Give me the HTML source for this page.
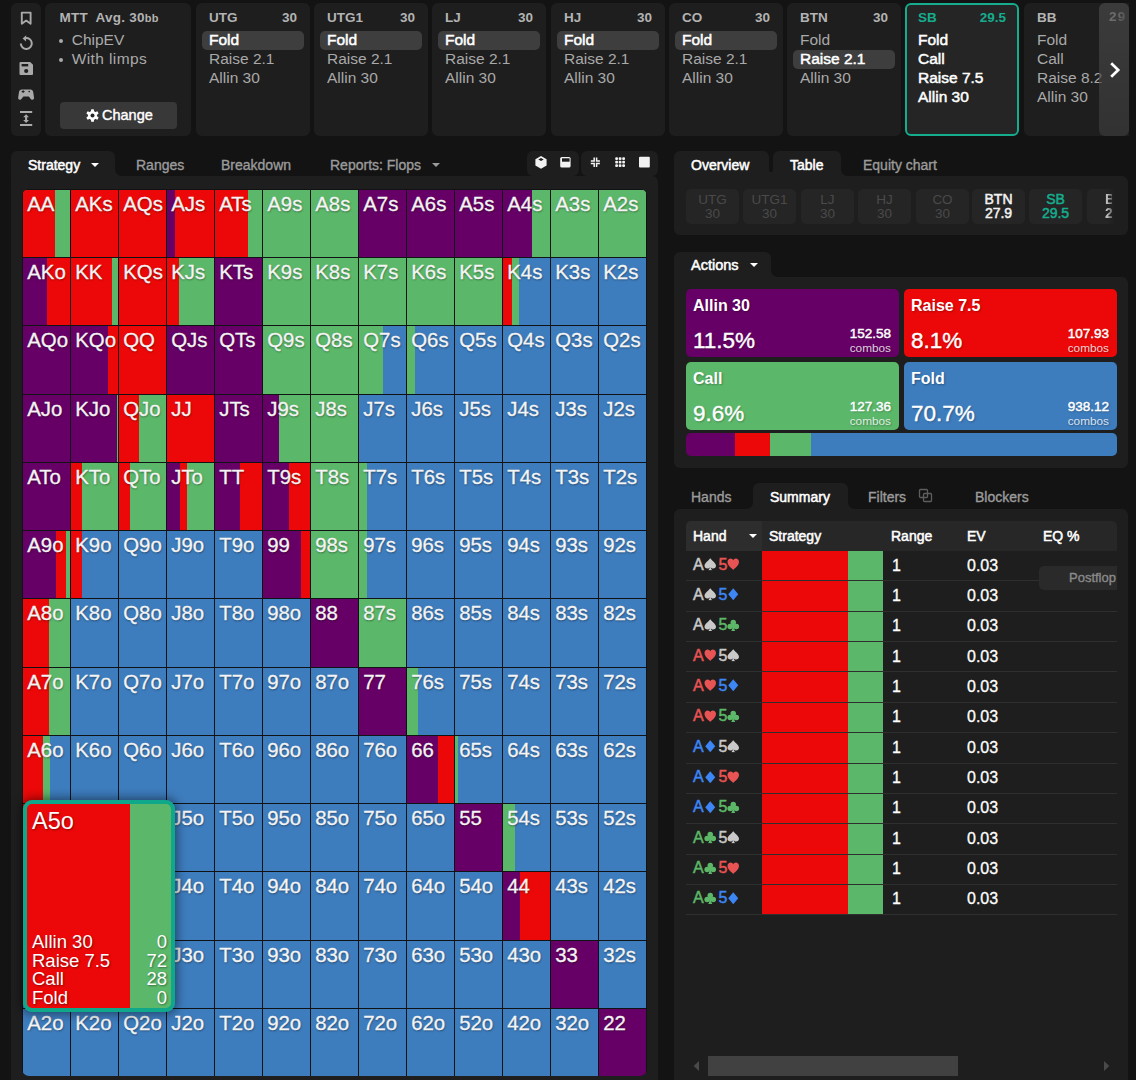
<!DOCTYPE html>
<html><head><meta charset="utf-8">
<style>
*{box-sizing:border-box;margin:0;padding:0}
html,body{width:1136px;height:1080px;overflow:hidden;background:#131313;font-family:"Liberation Sans",sans-serif;color:#fff}
.abs{position:absolute}
.pnl{position:absolute;background:#1e1e1e;border-radius:6px}
/* sidebar */
#side{left:11px;top:3px;width:30px;height:133px}
#side svg{position:absolute;left:7px}
/* mtt */
#mtt{left:45px;top:3px;width:146px;height:133px}
#mtt .t{position:absolute;left:14.5px;top:7px;font-size:13.5px;font-weight:bold;color:#b3b3b3;white-space:nowrap;letter-spacing:.25px}
#mtt .t small{font-size:11px}
#mtt ul{position:absolute;left:13px;top:27px;list-style:none;font-size:15.5px;color:#aaaaaa;line-height:19px}
#mtt li:before{content:"";display:inline-block;width:4.2px;height:4px;border-radius:50%;background:#aaa;margin:0 8.5px 0 1px;vertical-align:middle;position:relative;top:0.5px}
#chg{position:absolute;left:15px;top:99px;width:117px;height:27px;background:#383838;border-radius:4px;font-size:14.5px;color:#fff;text-align:center;line-height:27px;-webkit-text-stroke:0.4px #fff}
/* cards */
#cards{position:absolute;left:196px;top:3px;width:933px;height:133px;overflow:hidden}
.card{position:absolute;top:0;width:114px;height:133px;background:#1e1e1e;border-radius:6px}
.card .h{position:absolute;left:13px;right:13px;top:6.5px;font-size:13.5px;font-weight:bold;color:#b3b3b3}
.card .h b{float:right}
.card .a{position:absolute;left:6px;right:6px;top:28px;font-size:15.5px;line-height:19px;color:#a9a9a9}
.card .a div{padding-left:7px;height:19px;white-space:nowrap;position:relative;top:-1px}
.card .a .sel{background:#3e3e3e;border-radius:5px;color:#fff;font-size:15.5px;top:0;line-height:18px;-webkit-text-stroke:0.5px currentColor;font-weight:normal}
.card.sb{background:#252525;border:2px solid #15ad8e}
.card.sb .h{color:#15ad8e;left:11px;right:11px;top:4.5px}
.card.sb .a{left:4px;top:26px;color:#fff;font-size:15.5px;-webkit-text-stroke:0.5px currentColor;font-weight:normal}
#arrow{position:absolute;left:903px;top:0;width:30px;height:133px;border-radius:6px;background:linear-gradient(180deg,rgba(74,74,74,.66),rgba(60,60,60,.66))}
/* left panel */
#ltab{left:11px;top:151px;width:104px;height:30px;border-radius:6px 6px 0 0}
#lbody{left:11px;top:176px;width:647px;height:920px}
.tabt{position:absolute;font-size:14px;white-space:nowrap}
.tabt.bd{font-size:14px;color:#fff;-webkit-text-stroke:0.5px currentColor;font-weight:normal}
.grey{color:#9b9b9b;-webkit-text-stroke:0.35px #9b9b9b}
.caret{display:inline-block;width:0;height:0;border-left:4.5px solid transparent;border-right:4.5px solid transparent;border-top:4.5px solid currentColor;vertical-align:middle;margin-left:11px;position:relative;top:-1px}
#grid{position:absolute;left:22px;top:189px;width:625px;height:887px;background:#101214;border-radius:7px;overflow:hidden}
.c{position:absolute;width:47px;overflow:hidden}
.c span{position:absolute;left:4.2px;top:2.8px;font-size:20.4px;color:#f4f4f4;text-shadow:0.5px 1px 2px rgba(0,0,0,.45);white-space:nowrap;-webkit-text-stroke:0.3px #f4f4f4}
#pop{position:absolute;left:23px;top:800px;width:152px;height:212px;border:4px solid #0fa88a;border-radius:9px;background:linear-gradient(90deg,#ec0808 0 71.3%,#5bb86a 71.3% 100%);box-shadow:0 0 10px 2px rgba(0,0,0,.45);overflow:hidden}
#pop .n{position:absolute;left:5px;top:4px;font-size:23.5px;text-shadow:1px 1px 2px rgba(0,0,0,.4)}
#pop .l{position:absolute;left:5px;right:4px;top:129px;font-size:18.5px;line-height:18.6px;text-shadow:1px 1px 2px rgba(0,0,0,.4)}
#pop .l div span{float:right}
.fl{position:absolute;width:6px;height:6px;background:radial-gradient(circle at 0 0,#131313 5.4px,#1e1e1e 6.2px)}
.fr{position:absolute;width:6px;height:6px;background:radial-gradient(circle at 100% 0,#131313 5.4px,#1e1e1e 6.2px)}
/* right panel */
.pt{position:absolute;top:189px;width:53px;height:35px;background:#252525;border-radius:5px;text-align:center;font-size:13.5px;line-height:13.5px;padding-top:4px;color:#4a4a4a}
.pt.on{font-size:14px;-webkit-text-stroke:0.5px currentColor;font-weight:normal}
.ab{position:absolute;width:213px;height:68px;border-radius:5px;color:#fff;text-shadow:1px 1px 2px rgba(0,0,0,.3)}
.ab .n{position:absolute;left:7px;top:8px;font-size:16px;font-weight:bold}
.ab .p{position:absolute;left:7px;top:38.5px;font-size:22.5px;-webkit-text-stroke:0.4px #fff}
.ab .cb{position:absolute;right:8px;top:37.5px;text-align:right;font-size:13.5px;line-height:14.5px;-webkit-text-stroke:0.45px #fff}
.ab .cb i{font-style:normal;font-weight:normal;font-size:11.8px;color:rgba(255,255,255,.82);-webkit-text-stroke:0}
#thead{position:absolute;left:686px;top:521px;width:431px;height:30px;background:#272727;border-radius:5px 5px 0 0}
.th{position:absolute;top:528px;font-size:14px;white-space:nowrap;-webkit-text-stroke:0.5px currentColor;font-weight:normal}
.tr{position:absolute;left:686px;width:431px;height:30.36px;border-bottom:1px solid #2f2f2f}
.tr .hd{position:absolute;left:7px;top:4.5px;font-size:16px;letter-spacing:-0.3px;-webkit-text-stroke:0.5px currentColor}
.tr .st{position:absolute;left:76px;top:0;width:121px;height:100%;background:linear-gradient(90deg,#ec0808 0 71%,#5bb86a 71% 100%)}
.tr .rg{position:absolute;left:206px;top:5.5px;font-size:16px;-webkit-text-stroke:0.3px #fff}
.tr .ev{position:absolute;left:281px;top:5.5px;font-size:16px;-webkit-text-stroke:0.3px #fff}
.su{display:inline-block;width:12.5px;height:12.5px;fill:currentColor;vertical-align:-1px;margin:0 2px 0 0.5px}
.sp{color:#c9c9c9}.ht{color:#e85454}.di{color:#3d86f5}.cl{color:#5cb868}
</style></head><body>

<svg width="0" height="0" style="position:absolute"><defs>
<symbol id="S" viewBox="0 0 100 100"><path d="M50 2 C38 20 4 40 4 62 C4 76 15 84 27 84 C36 84 42 80 46 74 C45 84 40 92 33 98 H67 C60 92 55 84 54 74 C58 80 64 84 73 84 C85 84 96 76 96 62 C96 40 62 20 50 2 Z"/></symbol>
<symbol id="H" viewBox="0 0 100 100"><path d="M50 96 C40 84 4 60 4 32 C4 14 16 4 29 4 C39 4 46 10 50 18 C54 10 61 4 71 4 C84 4 96 14 96 32 C96 60 60 84 50 96 Z"/></symbol>
<symbol id="D" viewBox="0 0 100 100"><path d="M50 2 L90 50 L50 98 L10 50 Z"/></symbol>
<symbol id="C" viewBox="0 0 100 100"><circle cx="50" cy="27" r="22"/><circle cx="25" cy="60" r="22"/><circle cx="75" cy="60" r="22"/><path d="M44 50 H56 C56 76 60 88 68 98 H32 C40 88 44 76 44 50 Z"/><rect x="40" y="40" width="20" height="25"/></symbol>
</defs></svg>
<div class="pnl" id="side"></div>
<svg class="abs" style="left:11px;top:3px" width="30" height="132" viewBox="11 3 30 132">
 <g fill="none" stroke="#a9a9a9" stroke-width="1.9" stroke-linejoin="round">
  <path d="M21.8 12.6 H30.6 V23.8 L26.2 20.6 L21.8 23.8 Z"/>
  <path d="M25.3 38.1 A5.5 5.5 0 1 1 20.8 43.6" stroke-width="2"/>
 </g>
 <path d="M26.2 35.2 L22.6 38.5 L26 41.6 Z" fill="#a9a9a9"/>
 <path d="M20.5 62 H30.2 L33 64.8 V74 Q33 75 32 75 H20.5 Q19.5 75 19.5 74 V63 Q19.5 62 20.5 62 Z" fill="#a9a9a9"/>
 <rect x="21.6" y="64" width="6.6" height="2.4" fill="#1e1e1e"/>
 <circle cx="26.2" cy="71" r="2.1" fill="#1e1e1e"/>
 <path d="M21.8 89.4 H30.4 C32 89.4 32.9 90.4 33.2 92 L34 97.6 C34.3 99.8 32 100.6 30.8 99 L28.8 96.6 H23.4 L21.4 99 C20.2 100.6 17.9 99.8 18.2 97.6 L19 92 C19.3 90.4 20.2 89.4 21.8 89.4 Z" fill="#a9a9a9"/>
 <path d="M21.6 91.6 h3 M23.1 90.2 v2.8" stroke="#1e1e1e" stroke-width="1"/>
 <circle cx="29.2" cy="91.6" r=".8" fill="#1e1e1e"/>
 <rect x="20" y="111" width="12.2" height="2" fill="#a9a9a9"/>
 <rect x="20" y="124" width="12.2" height="2" fill="#a9a9a9"/>
 <path d="M26.1 114.2 L29 117.2 H27.1 V120 H29 L26.1 123 L23.2 120 H25.1 V117.2 H23.2 Z" fill="#a9a9a9"/>
</svg>
<div class="pnl" id="mtt">
  <div class="t">MTT&nbsp; Avg. 30<small>bb</small></div>
  <ul><li>ChipEV</li><li style="letter-spacing:.4px">With limps</li></ul>
  <div id="chg"><svg style="position:absolute;left:26px;top:7px" width="13" height="13" viewBox="-6.5 -6.5 13 13"><g fill="#fff"><circle r="4.5"/><rect x="-1.45" y="-6.3" width="2.9" height="3.2" rx=".6" transform="rotate(0)"/><rect x="-1.45" y="-6.3" width="2.9" height="3.2" rx=".6" transform="rotate(60)"/><rect x="-1.45" y="-6.3" width="2.9" height="3.2" rx=".6" transform="rotate(120)"/><rect x="-1.45" y="-6.3" width="2.9" height="3.2" rx=".6" transform="rotate(180)"/><rect x="-1.45" y="-6.3" width="2.9" height="3.2" rx=".6" transform="rotate(240)"/><rect x="-1.45" y="-6.3" width="2.9" height="3.2" rx=".6" transform="rotate(300)"/></g><circle r="2" fill="#262626"/></svg><span style="position:absolute;left:42px;top:0">Change</span></div>
</div>

<div id="cards">
  <div class="card" style="left:0"><div class="h">UTG<b>30</b></div><div class="a"><div class="sel">Fold</div><div>Raise 2.1</div><div>Allin 30</div></div></div>
  <div class="card" style="left:118px"><div class="h">UTG1<b>30</b></div><div class="a"><div class="sel">Fold</div><div>Raise 2.1</div><div>Allin 30</div></div></div>
  <div class="card" style="left:236px"><div class="h">LJ<b>30</b></div><div class="a"><div class="sel">Fold</div><div>Raise 2.1</div><div>Allin 30</div></div></div>
  <div class="card" style="left:355px"><div class="h">HJ<b>30</b></div><div class="a"><div class="sel">Fold</div><div>Raise 2.1</div><div>Allin 30</div></div></div>
  <div class="card" style="left:473px"><div class="h">CO<b>30</b></div><div class="a"><div class="sel">Fold</div><div>Raise 2.1</div><div>Allin 30</div></div></div>
  <div class="card" style="left:591px"><div class="h">BTN<b>30</b></div><div class="a"><div>Fold</div><div class="sel">Raise 2.1</div><div>Allin 30</div></div></div>
  <div class="card sb" style="left:709px"><div class="h">SB<b>29.5</b></div><div class="a"><div>Fold</div><div>Call</div><div>Raise 7.5</div><div>Allin 30</div></div></div>
  <div class="card" style="left:828px"><div class="h">BB<b style="position:absolute;left:72px;top:-1px;letter-spacing:1.2px;-webkit-mask-image:linear-gradient(90deg,#000 45%,rgba(0,0,0,.45) 100%)">29</b></div><div class="a"><div>Fold</div><div>Call</div><div>Raise 8.2</div><div>Allin 30</div></div></div>
  <div id="arrow"><svg style="position:absolute;left:9px;top:58px" width="14" height="18" viewBox="0 0 14 18"><path d="M3.2 2.2 L10.2 9 L3.2 15.8" fill="none" stroke="#fff" stroke-width="2.7"/></svg></div>
</div>

<div class="pnl" id="ltab"></div>
<div class="pnl" id="lbody"></div>
<div class="tabt bd" style="left:28px;top:156.5px">Strategy<span class="caret"></span></div>
<div class="tabt grey" style="left:136px;top:156.5px">Ranges</div>
<div class="tabt grey" style="left:221px;top:156.5px">Breakdown</div>
<div class="tabt grey" style="left:330px;top:156.5px">Reports: Flops<span class="caret"></span></div>

<div class="pnl" style="left:527px;top:151px;width:52px;height:25px"></div>
<div class="pnl" style="left:581px;top:151px;width:77px;height:25px"></div>
<svg class="abs" style="left:527px;top:151px" width="131" height="25" viewBox="527 151 131 25">
 <path d="M541 156 L546.6 159.2 V165.6 L541 168.8 L535.4 165.6 V159.2 Z" fill="#f2f2f2"/>
 <path d="M535.6 159.3 L541 162.4 L546.4 159.3 L541 156.3 Z" fill="#1e1e1e" opacity=".0"/>
 <path d="M538.3 159.5 L541 158 L543.7 159.5 L541 161 Z" fill="#1e1e1e"/>
 <path d="M541 161.4 V168.6" fill="none" stroke="#1e1e1e" stroke-width="0" />
 <rect x="560.2" y="157" width="10.4" height="10.6" rx="1.6" fill="#f2f2f2"/>
 <rect x="562" y="158.3" width="7.6" height="3.4" fill="#1e1e1e"/>
 <path d="M590.8 160.9 H594.2 V157.4 M599.9 160.9 H596.6 V157.4 M590.8 163.6 H594.2 V167.1 M599.9 163.6 H596.6 V167.1" fill="none" stroke="#f2f2f2" stroke-width="1.5"/>
 <g fill="#f2f2f2">
  <rect x="615.2" y="157.3" width="2.8" height="2.8" rx="1"/><rect x="618.7" y="157.3" width="2.8" height="2.8" rx="1"/><rect x="622.2" y="157.3" width="2.8" height="2.8" rx="1"/><rect x="615.2" y="160.8" width="2.8" height="2.8" rx="1"/><rect x="618.7" y="160.8" width="2.8" height="2.8" rx="1"/><rect x="622.2" y="160.8" width="2.8" height="2.8" rx="1"/><rect x="615.2" y="164.3" width="2.8" height="2.8" rx="1"/><rect x="618.7" y="164.3" width="2.8" height="2.8" rx="1"/><rect x="622.2" y="164.3" width="2.8" height="2.8" rx="1"/></g>
 <rect x="639" y="156.8" width="10.8" height="10.8" rx="1" fill="#f2f2f2"/>
</svg>
<div class="fr" style="left:115px;top:170px"></div>
<div class="fr" style="left:769px;top:170px;width:2px;background:radial-gradient(circle at 100% 0,#131313 1.6px,#1e1e1e 2.4px)"></div>
<div class="fl" style="left:771px;top:170px;width:2px;background:radial-gradient(circle at 0 0,#131313 1.6px,#1e1e1e 2.4px)"></div>
<div class="fr" style="left:841px;top:170px"></div>
<div class="fr" style="left:771px;top:271px"></div>
<div class="fl" style="left:747px;top:503px"></div>
<div class="fr" style="left:848px;top:503px"></div>
<div class="fr" style="left:1127px;top:1074px;display:none"></div>
<div id="grid">
<div class="c" style="left:1px;top:1px;height:67px;background:linear-gradient(90deg,#ec0808 0.00% 69.00%,#5bb86a 69.00% 100.00%)"><span>AA</span></div>
<div class="c" style="left:49px;top:1px;height:67px;background:#ec0808"><span>AKs</span></div>
<div class="c" style="left:97px;top:1px;height:67px;background:#ec0808"><span>AQs</span></div>
<div class="c" style="left:145px;top:1px;height:67px;background:linear-gradient(90deg,#660066 0.00% 17.00%,#ec0808 17.00% 100.00%)"><span>AJs</span></div>
<div class="c" style="left:193px;top:1px;height:67px;background:linear-gradient(90deg,#ec0808 0.00% 71.00%,#5bb86a 71.00% 100.00%)"><span>ATs</span></div>
<div class="c" style="left:241px;top:1px;height:67px;background:#5bb86a"><span>A9s</span></div>
<div class="c" style="left:289px;top:1px;height:67px;background:#5bb86a"><span>A8s</span></div>
<div class="c" style="left:337px;top:1px;height:67px;background:#660066"><span>A7s</span></div>
<div class="c" style="left:385px;top:1px;height:67px;background:#660066"><span>A6s</span></div>
<div class="c" style="left:433px;top:1px;height:67px;background:#660066"><span>A5s</span></div>
<div class="c" style="left:481px;top:1px;height:67px;background:linear-gradient(90deg,#660066 0.00% 61.00%,#5bb86a 61.00% 100.00%)"><span>A4s</span></div>
<div class="c" style="left:529px;top:1px;height:67px;background:#5bb86a"><span>A3s</span></div>
<div class="c" style="left:577px;top:1px;height:67px;background:#5bb86a"><span>A2s</span></div>
<div class="c" style="left:1px;top:69px;height:67px;background:linear-gradient(90deg,#660066 0.00% 50.00%,#ec0808 50.00% 100.00%)"><span>AKo</span></div>
<div class="c" style="left:49px;top:69px;height:67px;background:linear-gradient(90deg,#ec0808 0.00% 87.50%,#5bb86a 87.50% 100.00%)"><span>KK</span></div>
<div class="c" style="left:97px;top:69px;height:67px;background:#ec0808"><span>KQs</span></div>
<div class="c" style="left:145px;top:69px;height:67px;background:linear-gradient(90deg,#ec0808 0.00% 26.00%,#5bb86a 26.00% 100.00%)"><span>KJs</span></div>
<div class="c" style="left:193px;top:69px;height:67px;background:#660066"><span>KTs</span></div>
<div class="c" style="left:241px;top:69px;height:67px;background:#5bb86a"><span>K9s</span></div>
<div class="c" style="left:289px;top:69px;height:67px;background:#5bb86a"><span>K8s</span></div>
<div class="c" style="left:337px;top:69px;height:67px;background:#5bb86a"><span>K7s</span></div>
<div class="c" style="left:385px;top:69px;height:67px;background:#5bb86a"><span>K6s</span></div>
<div class="c" style="left:433px;top:69px;height:67px;background:#5bb86a"><span>K5s</span></div>
<div class="c" style="left:481px;top:69px;height:67px;background:linear-gradient(90deg,#ec0808 0.00% 19.00%,#5bb86a 19.00% 35.00%,#3d7cbd 35.00% 100.00%)"><span>K4s</span></div>
<div class="c" style="left:529px;top:69px;height:67px;background:#3d7cbd"><span>K3s</span></div>
<div class="c" style="left:577px;top:69px;height:67px;background:#3d7cbd"><span>K2s</span></div>
<div class="c" style="left:1px;top:137px;height:68px;background:#660066"><span>AQo</span></div>
<div class="c" style="left:49px;top:137px;height:68px;background:linear-gradient(90deg,#660066 0.00% 79.00%,#ec0808 79.00% 100.00%)"><span>KQo</span></div>
<div class="c" style="left:97px;top:137px;height:68px;background:#ec0808"><span>QQ</span></div>
<div class="c" style="left:145px;top:137px;height:68px;background:#660066"><span>QJs</span></div>
<div class="c" style="left:193px;top:137px;height:68px;background:#660066"><span>QTs</span></div>
<div class="c" style="left:241px;top:137px;height:68px;background:#5bb86a"><span>Q9s</span></div>
<div class="c" style="left:289px;top:137px;height:68px;background:#5bb86a"><span>Q8s</span></div>
<div class="c" style="left:337px;top:137px;height:68px;background:linear-gradient(90deg,#5bb86a 0.00% 51.00%,#3d7cbd 51.00% 100.00%)"><span>Q7s</span></div>
<div class="c" style="left:385px;top:137px;height:68px;background:linear-gradient(90deg,#5bb86a 0.00% 16.00%,#3d7cbd 16.00% 100.00%)"><span>Q6s</span></div>
<div class="c" style="left:433px;top:137px;height:68px;background:#3d7cbd"><span>Q5s</span></div>
<div class="c" style="left:481px;top:137px;height:68px;background:#3d7cbd"><span>Q4s</span></div>
<div class="c" style="left:529px;top:137px;height:68px;background:#3d7cbd"><span>Q3s</span></div>
<div class="c" style="left:577px;top:137px;height:68px;background:#3d7cbd"><span>Q2s</span></div>
<div class="c" style="left:1px;top:206px;height:67px;background:#660066"><span>AJo</span></div>
<div class="c" style="left:49px;top:206px;height:67px;background:linear-gradient(90deg,#660066 0.00% 97.00%,#5bb86a 97.00% 100.00%)"><span>KJo</span></div>
<div class="c" style="left:97px;top:206px;height:67px;background:linear-gradient(90deg,#ec0808 0.00% 43.00%,#5bb86a 43.00% 100.00%)"><span>QJo</span></div>
<div class="c" style="left:145px;top:206px;height:67px;background:#ec0808"><span>JJ</span></div>
<div class="c" style="left:193px;top:206px;height:67px;background:#660066"><span>JTs</span></div>
<div class="c" style="left:241px;top:206px;height:67px;background:linear-gradient(90deg,#660066 0.00% 33.00%,#5bb86a 33.00% 100.00%)"><span>J9s</span></div>
<div class="c" style="left:289px;top:206px;height:67px;background:#5bb86a"><span>J8s</span></div>
<div class="c" style="left:337px;top:206px;height:67px;background:#3d7cbd"><span>J7s</span></div>
<div class="c" style="left:385px;top:206px;height:67px;background:#3d7cbd"><span>J6s</span></div>
<div class="c" style="left:433px;top:206px;height:67px;background:#3d7cbd"><span>J5s</span></div>
<div class="c" style="left:481px;top:206px;height:67px;background:#3d7cbd"><span>J4s</span></div>
<div class="c" style="left:529px;top:206px;height:67px;background:#3d7cbd"><span>J3s</span></div>
<div class="c" style="left:577px;top:206px;height:67px;background:#3d7cbd"><span>J2s</span></div>
<div class="c" style="left:1px;top:274px;height:67px;background:#660066"><span>ATo</span></div>
<div class="c" style="left:49px;top:274px;height:67px;background:linear-gradient(90deg,#ec0808 0.00% 24.00%,#5bb86a 24.00% 100.00%)"><span>KTo</span></div>
<div class="c" style="left:97px;top:274px;height:67px;background:linear-gradient(90deg,#ec0808 0.00% 24.00%,#5bb86a 24.00% 100.00%)"><span>QTo</span></div>
<div class="c" style="left:145px;top:274px;height:67px;background:linear-gradient(90deg,#660066 0.00% 27.00%,#ec0808 27.00% 43.00%,#5bb86a 43.00% 100.00%)"><span>JTo</span></div>
<div class="c" style="left:193px;top:274px;height:67px;background:linear-gradient(90deg,#660066 0.00% 53.00%,#ec0808 53.00% 100.00%)"><span>TT</span></div>
<div class="c" style="left:241px;top:274px;height:67px;background:linear-gradient(90deg,#660066 0.00% 55.00%,#ec0808 55.00% 100.00%)"><span>T9s</span></div>
<div class="c" style="left:289px;top:274px;height:67px;background:#5bb86a"><span>T8s</span></div>
<div class="c" style="left:337px;top:274px;height:67px;background:linear-gradient(90deg,#5bb86a 0.00% 17.00%,#3d7cbd 17.00% 100.00%)"><span>T7s</span></div>
<div class="c" style="left:385px;top:274px;height:67px;background:#3d7cbd"><span>T6s</span></div>
<div class="c" style="left:433px;top:274px;height:67px;background:#3d7cbd"><span>T5s</span></div>
<div class="c" style="left:481px;top:274px;height:67px;background:#3d7cbd"><span>T4s</span></div>
<div class="c" style="left:529px;top:274px;height:67px;background:#3d7cbd"><span>T3s</span></div>
<div class="c" style="left:577px;top:274px;height:67px;background:#3d7cbd"><span>T2s</span></div>
<div class="c" style="left:1px;top:342px;height:67px;background:linear-gradient(90deg,#660066 0.00% 70.00%,#ec0808 70.00% 92.00%,#5bb86a 92.00% 100.00%)"><span>A9o</span></div>
<div class="c" style="left:49px;top:342px;height:67px;background:linear-gradient(90deg,#ec0808 0.00% 23.00%,#3d7cbd 23.00% 100.00%)"><span>K9o</span></div>
<div class="c" style="left:97px;top:342px;height:67px;background:#3d7cbd"><span>Q9o</span></div>
<div class="c" style="left:145px;top:342px;height:67px;background:#3d7cbd"><span>J9o</span></div>
<div class="c" style="left:193px;top:342px;height:67px;background:#3d7cbd"><span>T9o</span></div>
<div class="c" style="left:241px;top:342px;height:67px;background:linear-gradient(90deg,#660066 0.00% 80.00%,#ec0808 80.00% 100.00%)"><span>99</span></div>
<div class="c" style="left:289px;top:342px;height:67px;background:#5bb86a"><span>98s</span></div>
<div class="c" style="left:337px;top:342px;height:67px;background:linear-gradient(90deg,#5bb86a 0.00% 17.00%,#3d7cbd 17.00% 100.00%)"><span>97s</span></div>
<div class="c" style="left:385px;top:342px;height:67px;background:#3d7cbd"><span>96s</span></div>
<div class="c" style="left:433px;top:342px;height:67px;background:#3d7cbd"><span>95s</span></div>
<div class="c" style="left:481px;top:342px;height:67px;background:#3d7cbd"><span>94s</span></div>
<div class="c" style="left:529px;top:342px;height:67px;background:#3d7cbd"><span>93s</span></div>
<div class="c" style="left:577px;top:342px;height:67px;background:#3d7cbd"><span>92s</span></div>
<div class="c" style="left:1px;top:410px;height:68px;background:linear-gradient(90deg,#ec0808 0.00% 56.00%,#5bb86a 56.00% 100.00%)"><span>A8o</span></div>
<div class="c" style="left:49px;top:410px;height:68px;background:#3d7cbd"><span>K8o</span></div>
<div class="c" style="left:97px;top:410px;height:68px;background:#3d7cbd"><span>Q8o</span></div>
<div class="c" style="left:145px;top:410px;height:68px;background:#3d7cbd"><span>J8o</span></div>
<div class="c" style="left:193px;top:410px;height:68px;background:#3d7cbd"><span>T8o</span></div>
<div class="c" style="left:241px;top:410px;height:68px;background:#3d7cbd"><span>98o</span></div>
<div class="c" style="left:289px;top:410px;height:68px;background:#660066"><span>88</span></div>
<div class="c" style="left:337px;top:410px;height:68px;background:#5bb86a"><span>87s</span></div>
<div class="c" style="left:385px;top:410px;height:68px;background:#3d7cbd"><span>86s</span></div>
<div class="c" style="left:433px;top:410px;height:68px;background:#3d7cbd"><span>85s</span></div>
<div class="c" style="left:481px;top:410px;height:68px;background:#3d7cbd"><span>84s</span></div>
<div class="c" style="left:529px;top:410px;height:68px;background:#3d7cbd"><span>83s</span></div>
<div class="c" style="left:577px;top:410px;height:68px;background:#3d7cbd"><span>82s</span></div>
<div class="c" style="left:1px;top:479px;height:67px;background:linear-gradient(90deg,#ec0808 0.00% 56.00%,#5bb86a 56.00% 100.00%)"><span>A7o</span></div>
<div class="c" style="left:49px;top:479px;height:67px;background:#3d7cbd"><span>K7o</span></div>
<div class="c" style="left:97px;top:479px;height:67px;background:#3d7cbd"><span>Q7o</span></div>
<div class="c" style="left:145px;top:479px;height:67px;background:#3d7cbd"><span>J7o</span></div>
<div class="c" style="left:193px;top:479px;height:67px;background:#3d7cbd"><span>T7o</span></div>
<div class="c" style="left:241px;top:479px;height:67px;background:#3d7cbd"><span>97o</span></div>
<div class="c" style="left:289px;top:479px;height:67px;background:#3d7cbd"><span>87o</span></div>
<div class="c" style="left:337px;top:479px;height:67px;background:#660066"><span>77</span></div>
<div class="c" style="left:385px;top:479px;height:67px;background:linear-gradient(90deg,#5bb86a 0.00% 24.00%,#3d7cbd 24.00% 100.00%)"><span>76s</span></div>
<div class="c" style="left:433px;top:479px;height:67px;background:#3d7cbd"><span>75s</span></div>
<div class="c" style="left:481px;top:479px;height:67px;background:#3d7cbd"><span>74s</span></div>
<div class="c" style="left:529px;top:479px;height:67px;background:#3d7cbd"><span>73s</span></div>
<div class="c" style="left:577px;top:479px;height:67px;background:#3d7cbd"><span>72s</span></div>
<div class="c" style="left:1px;top:547px;height:67px;background:linear-gradient(90deg,#ec0808 0.00% 42.00%,#5bb86a 42.00% 57.00%,#3d7cbd 57.00% 100.00%)"><span>A6o</span></div>
<div class="c" style="left:49px;top:547px;height:67px;background:#3d7cbd"><span>K6o</span></div>
<div class="c" style="left:97px;top:547px;height:67px;background:#3d7cbd"><span>Q6o</span></div>
<div class="c" style="left:145px;top:547px;height:67px;background:#3d7cbd"><span>J6o</span></div>
<div class="c" style="left:193px;top:547px;height:67px;background:#3d7cbd"><span>T6o</span></div>
<div class="c" style="left:241px;top:547px;height:67px;background:#3d7cbd"><span>96o</span></div>
<div class="c" style="left:289px;top:547px;height:67px;background:#3d7cbd"><span>86o</span></div>
<div class="c" style="left:337px;top:547px;height:67px;background:#3d7cbd"><span>76o</span></div>
<div class="c" style="left:385px;top:547px;height:67px;background:linear-gradient(90deg,#660066 0.00% 65.00%,#ec0808 65.00% 100.00%)"><span>66</span></div>
<div class="c" style="left:433px;top:547px;height:67px;background:linear-gradient(90deg,#5bb86a 0.00% 6.00%,#3d7cbd 6.00% 100.00%)"><span>65s</span></div>
<div class="c" style="left:481px;top:547px;height:67px;background:#3d7cbd"><span>64s</span></div>
<div class="c" style="left:529px;top:547px;height:67px;background:#3d7cbd"><span>63s</span></div>
<div class="c" style="left:577px;top:547px;height:67px;background:#3d7cbd"><span>62s</span></div>
<div class="c" style="left:1px;top:615px;height:67px;background:linear-gradient(90deg,#ec0808 0.00% 72.00%,#5bb86a 72.00% 100.00%)"><span>A5o</span></div>
<div class="c" style="left:49px;top:615px;height:67px;background:#3d7cbd"><span>K5o</span></div>
<div class="c" style="left:97px;top:615px;height:67px;background:#3d7cbd"><span>Q5o</span></div>
<div class="c" style="left:145px;top:615px;height:67px;background:#3d7cbd"><span>J5o</span></div>
<div class="c" style="left:193px;top:615px;height:67px;background:#3d7cbd"><span>T5o</span></div>
<div class="c" style="left:241px;top:615px;height:67px;background:#3d7cbd"><span>95o</span></div>
<div class="c" style="left:289px;top:615px;height:67px;background:#3d7cbd"><span>85o</span></div>
<div class="c" style="left:337px;top:615px;height:67px;background:#3d7cbd"><span>75o</span></div>
<div class="c" style="left:385px;top:615px;height:67px;background:#3d7cbd"><span>65o</span></div>
<div class="c" style="left:433px;top:615px;height:67px;background:#660066"><span>55</span></div>
<div class="c" style="left:481px;top:615px;height:67px;background:linear-gradient(90deg,#5bb86a 0.00% 26.00%,#3d7cbd 26.00% 100.00%)"><span>54s</span></div>
<div class="c" style="left:529px;top:615px;height:67px;background:#3d7cbd"><span>53s</span></div>
<div class="c" style="left:577px;top:615px;height:67px;background:#3d7cbd"><span>52s</span></div>
<div class="c" style="left:1px;top:683px;height:68px;background:#3d7cbd"><span>A4o</span></div>
<div class="c" style="left:49px;top:683px;height:68px;background:#3d7cbd"><span>K4o</span></div>
<div class="c" style="left:97px;top:683px;height:68px;background:#3d7cbd"><span>Q4o</span></div>
<div class="c" style="left:145px;top:683px;height:68px;background:#3d7cbd"><span>J4o</span></div>
<div class="c" style="left:193px;top:683px;height:68px;background:#3d7cbd"><span>T4o</span></div>
<div class="c" style="left:241px;top:683px;height:68px;background:#3d7cbd"><span>94o</span></div>
<div class="c" style="left:289px;top:683px;height:68px;background:#3d7cbd"><span>84o</span></div>
<div class="c" style="left:337px;top:683px;height:68px;background:#3d7cbd"><span>74o</span></div>
<div class="c" style="left:385px;top:683px;height:68px;background:#3d7cbd"><span>64o</span></div>
<div class="c" style="left:433px;top:683px;height:68px;background:#3d7cbd"><span>54o</span></div>
<div class="c" style="left:481px;top:683px;height:68px;background:linear-gradient(90deg,#660066 0.00% 36.00%,#ec0808 36.00% 100.00%)"><span>44</span></div>
<div class="c" style="left:529px;top:683px;height:68px;background:#3d7cbd"><span>43s</span></div>
<div class="c" style="left:577px;top:683px;height:68px;background:#3d7cbd"><span>42s</span></div>
<div class="c" style="left:1px;top:752px;height:67px;background:#3d7cbd"><span>A3o</span></div>
<div class="c" style="left:49px;top:752px;height:67px;background:#3d7cbd"><span>K3o</span></div>
<div class="c" style="left:97px;top:752px;height:67px;background:#3d7cbd"><span>Q3o</span></div>
<div class="c" style="left:145px;top:752px;height:67px;background:#3d7cbd"><span>J3o</span></div>
<div class="c" style="left:193px;top:752px;height:67px;background:#3d7cbd"><span>T3o</span></div>
<div class="c" style="left:241px;top:752px;height:67px;background:#3d7cbd"><span>93o</span></div>
<div class="c" style="left:289px;top:752px;height:67px;background:#3d7cbd"><span>83o</span></div>
<div class="c" style="left:337px;top:752px;height:67px;background:#3d7cbd"><span>73o</span></div>
<div class="c" style="left:385px;top:752px;height:67px;background:#3d7cbd"><span>63o</span></div>
<div class="c" style="left:433px;top:752px;height:67px;background:#3d7cbd"><span>53o</span></div>
<div class="c" style="left:481px;top:752px;height:67px;background:#3d7cbd"><span>43o</span></div>
<div class="c" style="left:529px;top:752px;height:67px;background:#660066"><span>33</span></div>
<div class="c" style="left:577px;top:752px;height:67px;background:#3d7cbd"><span>32s</span></div>
<div class="c" style="left:1px;top:820px;height:67px;background:#3d7cbd"><span>A2o</span></div>
<div class="c" style="left:49px;top:820px;height:67px;background:#3d7cbd"><span>K2o</span></div>
<div class="c" style="left:97px;top:820px;height:67px;background:#3d7cbd"><span>Q2o</span></div>
<div class="c" style="left:145px;top:820px;height:67px;background:#3d7cbd"><span>J2o</span></div>
<div class="c" style="left:193px;top:820px;height:67px;background:#3d7cbd"><span>T2o</span></div>
<div class="c" style="left:241px;top:820px;height:67px;background:#3d7cbd"><span>92o</span></div>
<div class="c" style="left:289px;top:820px;height:67px;background:#3d7cbd"><span>82o</span></div>
<div class="c" style="left:337px;top:820px;height:67px;background:#3d7cbd"><span>72o</span></div>
<div class="c" style="left:385px;top:820px;height:67px;background:#3d7cbd"><span>62o</span></div>
<div class="c" style="left:433px;top:820px;height:67px;background:#3d7cbd"><span>52o</span></div>
<div class="c" style="left:481px;top:820px;height:67px;background:#3d7cbd"><span>42o</span></div>
<div class="c" style="left:529px;top:820px;height:67px;background:#3d7cbd"><span>32o</span></div>
<div class="c" style="left:577px;top:820px;height:67px;background:#660066"><span>22</span></div>
</div>
<!-- right panel -->
<div class="pnl" style="left:674px;top:151px;width:95px;height:30px;border-radius:6px 6px 0 0"></div>
<div class="pnl" style="left:773px;top:151px;width:68px;height:30px;border-radius:6px 6px 0 0;background:#1e1e1e"></div>
<div class="pnl" style="left:674px;top:176px;width:454px;height:59px"></div>
<div class="tabt bd" style="left:691px;top:156.5px">Overview</div>
<div class="tabt bd" style="left:790px;top:156.5px">Table</div>
<div class="tabt grey" style="left:863px;top:156.5px">Equity chart</div>
<div class="pt" style="left:686px">UTG<br>30</div>
<div class="pt" style="left:743px">UTG1<br>30</div>
<div class="pt" style="left:801px">LJ<br>30</div>
<div class="pt" style="left:858px">HJ<br>30</div>
<div class="pt" style="left:916px">CO<br>30</div>
<div class="pt on" style="left:972px;color:#f2f2f2">BTN<br>27.9</div>
<div class="pt on" style="left:1029px;color:#15ad8e">SB<br>29.5</div>
<div class="abs" style="left:1087px;top:189px;width:29px;height:35px;overflow:hidden;-webkit-mask-image:linear-gradient(90deg,#000 70%,transparent 100%)"><div class="pt" style="left:0;top:0"></div><div class="abs" style="left:0;top:4px;width:25px;height:30px;overflow:hidden;font-weight:bold;font-size:14px;line-height:13.5px;color:#bdbdbd"><div style="position:absolute;left:18px;top:0;white-space:nowrap">BB<br>29.5</div></div></div>

<div class="pnl" style="left:674px;top:252px;width:97px;height:30px;border-radius:6px 6px 0 0"></div>
<div class="pnl" style="left:674px;top:277px;width:454px;height:191px"></div>
<div class="tabt bd" style="left:691px;top:256.5px;font-size:14.5px">Actions<span class="caret"></span></div>
<div class="ab" style="left:686px;top:289px;background:#660066"><div class="n">Allin 30</div><div class="p">11.5%</div><div class="cb">152.58<br><i>combos</i></div></div>
<div class="ab" style="left:904px;top:289px;background:#ec0808"><div class="n">Raise 7.5</div><div class="p">8.1%</div><div class="cb">107.93<br><i>combos</i></div></div>
<div class="ab" style="left:686px;top:362px;background:#5bb86a"><div class="n">Call</div><div class="p">9.6%</div><div class="cb">127.36<br><i>combos</i></div></div>
<div class="ab" style="left:904px;top:362px;background:#3d7cbd"><div class="n">Fold</div><div class="p">70.7%</div><div class="cb">938.12<br><i>combos</i></div></div>
<div class="abs" style="left:686px;top:433px;width:431px;height:23px;border-radius:5px;background:linear-gradient(90deg,#660066 0 49px,#ec0808 49px 84px,#5bb86a 84px 125px,#3d7cbd 125px)"></div>

<div class="pnl" style="left:753px;top:483px;width:95px;height:30px;border-radius:6px 6px 0 0"></div>
<div class="pnl" style="left:674px;top:509px;width:454px;height:600px"></div>
<div class="tabt grey" style="left:691px;top:489px">Hands</div>
<div class="tabt bd" style="left:770px;top:489px">Summary</div>
<div class="tabt grey" style="left:868px;top:489px">Filters</div><svg class="abs" style="left:918px;top:488px" width="16" height="16" viewBox="0 0 16 16"><g fill="none" stroke="#5e5e5e" stroke-width="1.3"><rect x="1.5" y="1.5" width="8" height="8" rx="1"/><rect x="5.5" y="5.5" width="8" height="8" rx="1"/></g></svg>
<div class="tabt grey" style="left:975px;top:489px">Blockers</div>
<div id="thead"><div style="position:absolute;left:0;top:0;width:76px;height:30px;background:#2d2d2d;border-radius:5px 0 0 0"></div></div>
<div class="th" style="left:693px">Hand</div><div class="abs" style="left:749px;top:534px;width:0;height:0;border-left:4.5px solid transparent;border-right:4.5px solid transparent;border-top:4.5px solid #fff"></div>
<div class="th" style="left:769px">Strategy</div>
<div class="th" style="left:891px">Range</div>
<div class="th" style="left:967px">EV</div>
<div class="th" style="left:1043px">EQ %</div>
<div class="tr" style="top:551.00px"><div class="hd"><span class="sp">A<svg class="su"><use href="#S"/></svg></span><span class="ht">5<svg class="su"><use href="#H"/></svg></span></div><div class="st"></div><div class="rg">1</div><div class="ev">0.03</div></div>
<div class="tr" style="top:581.36px"><div class="hd"><span class="sp">A<svg class="su"><use href="#S"/></svg></span><span class="di">5<svg class="su"><use href="#D"/></svg></span></div><div class="st"></div><div class="rg">1</div><div class="ev">0.03</div></div>
<div class="tr" style="top:611.72px"><div class="hd"><span class="sp">A<svg class="su"><use href="#S"/></svg></span><span class="cl">5<svg class="su"><use href="#C"/></svg></span></div><div class="st"></div><div class="rg">1</div><div class="ev">0.03</div></div>
<div class="tr" style="top:642.08px"><div class="hd"><span class="ht">A<svg class="su"><use href="#H"/></svg></span><span class="sp">5<svg class="su"><use href="#S"/></svg></span></div><div class="st"></div><div class="rg">1</div><div class="ev">0.03</div></div>
<div class="tr" style="top:672.44px"><div class="hd"><span class="ht">A<svg class="su"><use href="#H"/></svg></span><span class="di">5<svg class="su"><use href="#D"/></svg></span></div><div class="st"></div><div class="rg">1</div><div class="ev">0.03</div></div>
<div class="tr" style="top:702.80px"><div class="hd"><span class="ht">A<svg class="su"><use href="#H"/></svg></span><span class="cl">5<svg class="su"><use href="#C"/></svg></span></div><div class="st"></div><div class="rg">1</div><div class="ev">0.03</div></div>
<div class="tr" style="top:733.16px"><div class="hd"><span class="di">A<svg class="su"><use href="#D"/></svg></span><span class="sp">5<svg class="su"><use href="#S"/></svg></span></div><div class="st"></div><div class="rg">1</div><div class="ev">0.03</div></div>
<div class="tr" style="top:763.52px"><div class="hd"><span class="di">A<svg class="su"><use href="#D"/></svg></span><span class="ht">5<svg class="su"><use href="#H"/></svg></span></div><div class="st"></div><div class="rg">1</div><div class="ev">0.03</div></div>
<div class="tr" style="top:793.88px"><div class="hd"><span class="di">A<svg class="su"><use href="#D"/></svg></span><span class="cl">5<svg class="su"><use href="#C"/></svg></span></div><div class="st"></div><div class="rg">1</div><div class="ev">0.03</div></div>
<div class="tr" style="top:824.24px"><div class="hd"><span class="cl">A<svg class="su"><use href="#C"/></svg></span><span class="sp">5<svg class="su"><use href="#S"/></svg></span></div><div class="st"></div><div class="rg">1</div><div class="ev">0.03</div></div>
<div class="tr" style="top:854.60px"><div class="hd"><span class="cl">A<svg class="su"><use href="#C"/></svg></span><span class="ht">5<svg class="su"><use href="#H"/></svg></span></div><div class="st"></div><div class="rg">1</div><div class="ev">0.03</div></div>
<div class="tr" style="top:884.96px"><div class="hd"><span class="cl">A<svg class="su"><use href="#C"/></svg></span><span class="di">5<svg class="su"><use href="#D"/></svg></span></div><div class="st"></div><div class="rg">1</div><div class="ev">0.03</div></div>
<div class="abs" style="left:1039px;top:566px;width:78px;height:24px;background:#2a2a2a;border-radius:5px 0 0 5px;font-size:13px;color:#8a8a8a;line-height:24px;padding-left:30px;overflow:hidden;-webkit-text-stroke:0.35px #8a8a8a">Postflop</div>
<div class="abs" style="left:708px;top:1056px;width:250px;height:19.5px;background:#414141"></div>
<svg class="abs" style="left:686px;top:1050px" width="440" height="30" viewBox="686 1050 440 30"><path d="M693.7 1066 L699 1060.9 V1071.1 Z" fill="#4a4a4a"/><path d="M1109.3 1066 L1104 1060.9 V1071.1 Z" fill="#4a4a4a"/></svg>

<div id="pop"><div class="n">A5o</div><div class="l"><div>Allin 30<span>0</span></div><div>Raise 7.5<span>72</span></div><div>Call<span>28</span></div><div>Fold<span>0</span></div></div></div>

</body></html>
